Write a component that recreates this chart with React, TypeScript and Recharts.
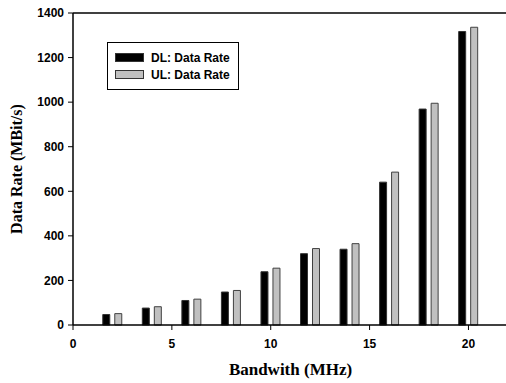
import { BarChart, Bar, XAxis, YAxis, ReferenceLine } from "recharts";

const bandwidth = [2, 4, 6, 8, 10, 12, 14, 16, 18, 20];
const dlRate = [47, 76, 110, 148, 239, 320, 340, 641, 969, 1317];
const ulRate = [51, 82, 116, 155, 255, 343, 365, 686, 995, 1336];
const xTicks = [0, 5, 10, 15, 20];
const yTicks = [0, 200, 400, 600, 800, 1000, 1200, 1400];

const data = bandwidth.map((b, i) => ({ bw: b, dl: dlRate[i], ul: ulRate[i] }));

const sans = "'Liberation Sans', Arial, sans-serif";
const serif = "'Liberation Serif', 'Times New Roman', serif";
const tickStyle = { fontFamily: sans, fontSize: 12, fontWeight: 700, fill: "#000" };

function LegendBox() {
  const row = (fill: string, label: string) => (
    <div style={{ display: "flex", alignItems: "center", height: 16.7 }}>
      <div
        style={{
          width: 27,
          height: 7,
          background: fill,
          border: "1px solid #333",
          marginRight: 7,
        }}
      />
      <span style={{ fontFamily: sans, fontSize: 12, fontWeight: 700 }}>{label}</span>
    </div>
  );
  return (
    <div
      style={{
        position: "absolute",
        left: 107,
        top: 42,
        width: 132,
        height: 48,
        boxSizing: "border-box",
        border: "1.5px solid #000",
        padding: "6.5px 0 0 7px",
        background: "#fff",
      }}
    >
      {row("#000", "DL: Data Rate")}
      {row("#c0c0c0", "UL: Data Rate")}
    </div>
  );
}

export default function App() {
  return (
    <div style={{ position: "absolute", left: 0, top: 0, width: 506, height: 383, overflow: "hidden", background: "#fff" }}>
      <BarChart
        width={508}
        height={383}
        data={data}
        margin={{ top: 13, right: 0, bottom: 0, left: 0 }}
        barSize={7}
        barGap={5}
      >
        <XAxis
          dataKey="bw"
          type="number"
          domain={[0, 22]}
          ticks={xTicks}
          height={58}
          tickSize={5}
          tickMargin={9}
          tick={tickStyle}
          axisLine={{ stroke: "#000", strokeWidth: 1.5 }}
          tickLine={{ stroke: "#000" }}
          label={{
            value: "Bandwith (MHz)",
            position: "insideBottom",
            offset: 8,
            style: { fontFamily: serif, fontSize: 17, fontWeight: 700, fill: "#000" },
          }}
        />
        <YAxis
          domain={[0, 1400]}
          ticks={yTicks}
          width={73}
          tickSize={5}
          tickMargin={4}
          tick={tickStyle}
          axisLine={{ stroke: "#000", strokeWidth: 1.5 }}
          tickLine={{ stroke: "#000" }}
          label={{
            value: "Data Rate (MBit/s)",
            angle: -90,
            position: "insideLeft",
            offset: 16,
            style: { fontFamily: serif, fontSize: 16, fontWeight: 700, fill: "#000", textAnchor: "middle" },
          }}
        />
        <ReferenceLine y={1400} stroke="#000" strokeWidth={1.5} />
        <Bar dataKey="dl" fill="#000" stroke="#333" strokeWidth={1} isAnimationActive={false} />
        <Bar dataKey="ul" fill="#c0c0c0" stroke="#404040" strokeWidth={1} isAnimationActive={false} />
      </BarChart>
      <LegendBox />
    </div>
  );
}
